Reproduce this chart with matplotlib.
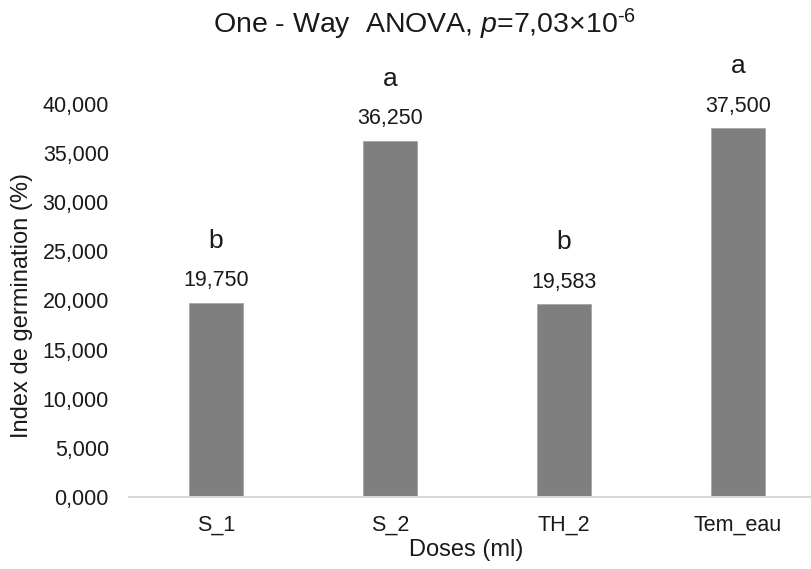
import matplotlib
matplotlib.use("Agg")
import matplotlib.pyplot as plt
from matplotlib.ticker import FixedLocator, FuncFormatter

plt.rcParams["font.family"] = ["Liberation Sans", "DejaVu Sans"]
plt.rcParams["mathtext.fontset"] = "custom"
plt.rcParams["mathtext.rm"] = "Liberation Sans"
plt.rcParams["mathtext.it"] = "Liberation Sans:italic"

# Data
categories = ["S_1", "S_2", "TH_2", "Tem_eau"]
values = [19.750, 36.250, 19.583, 37.500]
groups = ["b", "a", "b", "a"]
yticks = [0, 5, 10, 15, 20, 25, 30, 35, 40]

W, H = 811, 569
fig = plt.figure(figsize=(W / 100, H / 100), dpi=100)

# axes placed in pixel terms: x from 129 to 825, y from 497 (zero) to 103.7 (40)
left, right = 129, 825
bottom, top = 497, 103.7
ax = fig.add_axes([left / W, 1 - bottom / H, (right - left) / W, (bottom - top) / H])

text_color = "#1a1a1a"
x = list(range(len(categories)))
ax.bar(x, values, width=0.315, color="#7f7f7f", edgecolor="#a6a6a6", linewidth=0.6, zorder=2)

ax.set_xlim(-0.5, len(categories) - 0.5)
ax.set_ylim(0, 40)
ax.yaxis.set_major_locator(FixedLocator(yticks))
ax.yaxis.set_major_formatter(FuncFormatter(lambda v, p: f"{v:.3f}".replace(".", ",")))
ax.set_xticks(x)
ax.set_xticklabels(categories)

for s in ["top", "right", "left"]:
    ax.spines[s].set_visible(False)
ax.spines["bottom"].set_color("#d9d9d9")
ax.spines["bottom"].set_linewidth(1.5)
ax.tick_params(axis="both", length=0, labelsize=15.5, colors=text_color)
ax.tick_params(axis="y", pad=14.5)
ax.tick_params(axis="x", pad=12.5)

# value labels and significance letters
for xi, v, g in zip(x, values, groups):
    ax.annotate(f"{v:.3f}".replace(".", ","), (xi, v), xytext=(0, 22),
                textcoords="offset pixels", ha="center", va="center",
                fontsize=15.5, color=text_color, annotation_clip=False)
    ax.annotate(g, (xi, v), xytext=(0, 62), textcoords="offset pixels",
                ha="center", va="center", fontsize=19, color=text_color,
                annotation_clip=False)

fig.text(466 / W, 1 - 550 / H, "Doses (ml)", ha="center", va="center",
         fontsize=17, color=text_color)
fig.text(22 / W, 1 - 306 / H, "Index de germination (%)", ha="center", va="center",
         rotation=90, fontsize=17, color=text_color)
fig.text(425 / W, 1 - 33 / H,
         r"One - Way  ANOVA, $\it{p}$=7,03×10$^{\text{-6}}$",
         ha="center", va="baseline", fontsize=20.5, color=text_color)

fig.savefig("out.png", dpi=100)
